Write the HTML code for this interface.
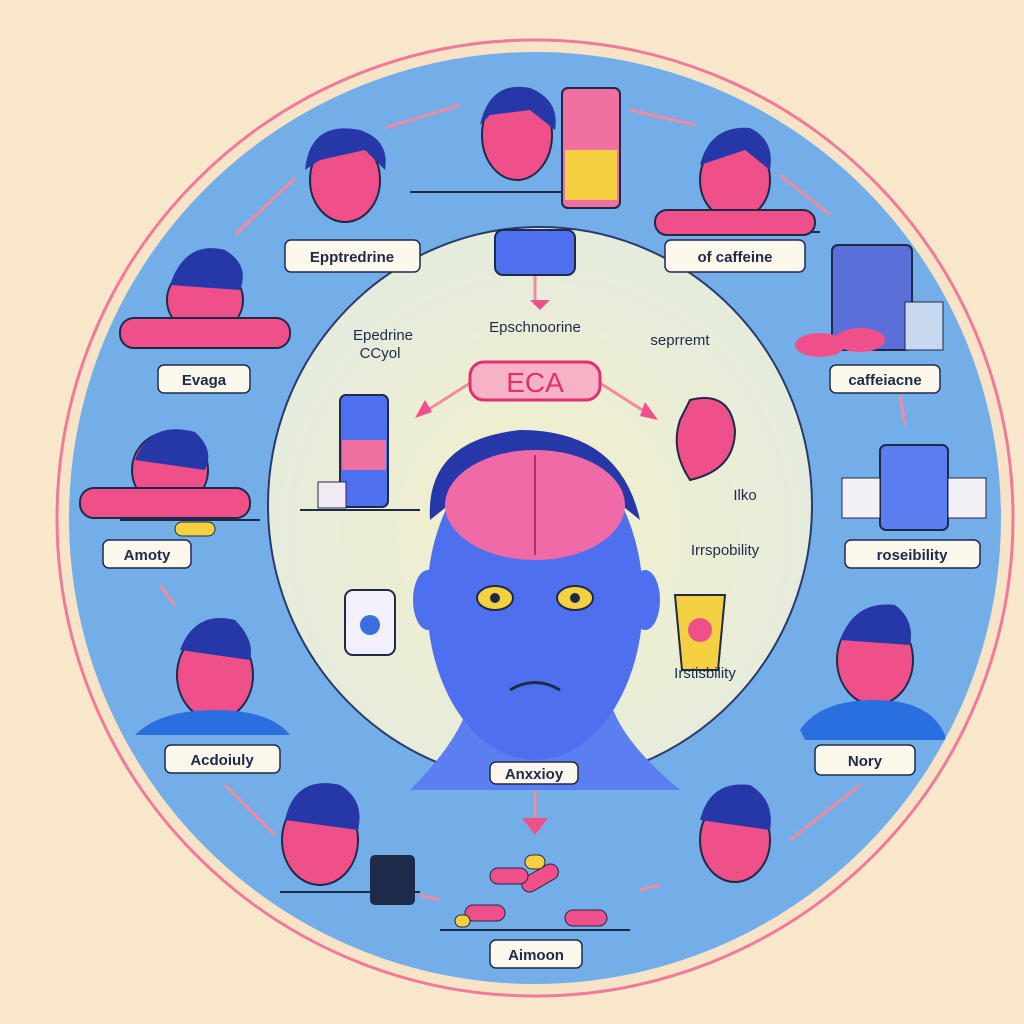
<!DOCTYPE html>
<html><head><meta charset="utf-8"><style>
html,body{margin:0;padding:0;background:#f8e7cb;}
svg{display:block}
text{font-family:"Liberation Sans",sans-serif;}
</style></head><body>
<svg width="1024" height="1024" viewBox="0 0 1024 1024" xmlns="http://www.w3.org/2000/svg">
<defs><radialGradient id="g" cx="0.5" cy="0.55" r="0.5"><stop offset="0" stop-color="#f4f0c8"/><stop offset="1" stop-color="#e6ecdc"/></radialGradient></defs>
<rect width="1024" height="1024" fill="#f8e7cb"/>
<circle cx="535" cy="518" r="478" fill="#f7e3c6" stroke="#f07a9a" stroke-width="3"/>
<circle cx="535" cy="518" r="466" fill="#74aee8"/>
<ellipse cx="540" cy="505" rx="272" ry="278" fill="url(#g)" stroke="#2a3a6a" stroke-width="2"/>
<g stroke="#1e2a4a" stroke-width="2">
<line x1="410" y1="192" x2="600" y2="192"/><line x1="300" y1="510" x2="420" y2="510"/>
<line x1="280" y1="892" x2="420" y2="892"/><line x1="440" y1="930" x2="630" y2="930"/>
<line x1="665" y1="232" x2="820" y2="232"/><line x1="120" y1="520" x2="260" y2="520"/>
</g>
<g stroke="#f28aa0" stroke-width="3" fill="none">
<path d="M385 128 L460 105"/><path d="M630 110 L695 125"/><path d="M780 175 L830 215"/>
<path d="M295 178 L235 235"/><path d="M900 395 L905 425"/><path d="M160 585 L175 605"/>
<path d="M225 785 L275 835"/><path d="M790 840 L860 785"/><path d="M420 895 L440 900"/>
<path d="M640 890 L660 885"/><path d="M535 275 L535 305"/><path d="M470 383 L420 415"/>
<path d="M600 383 L650 415"/><path d="M535 790 L535 830"/>
</g>
<g fill="#f0508a">
<polygon points="540,310 530,300 550,300"/><polygon points="415,418 425,400 432,412"/>
<polygon points="658,420 645,402 640,416"/><polygon points="535,835 522,818 548,818"/>
</g>
<path d="M410 790 Q460 740 470 700 L610 700 Q620 740 680 790 Z" fill="#5b7ff0"/>
<ellipse cx="535" cy="600" rx="108" ry="160" fill="#4f70ee"/>
<ellipse cx="428" cy="600" rx="15" ry="30" fill="#4f70ee"/><ellipse cx="645" cy="600" rx="15" ry="30" fill="#4f70ee"/>
<path d="M430 520 Q425 440 520 430 Q620 430 640 520 L615 500 L455 500 Z" fill="#2637a8"/>
<ellipse cx="535" cy="505" rx="90" ry="55" fill="#f06aa8"/>
<line x1="535" y1="455" x2="535" y2="555" stroke="#b03070" stroke-width="2"/>
<ellipse cx="495" cy="598" rx="18" ry="12" fill="#f5d040" stroke="#1e2a4a" stroke-width="2"/>
<ellipse cx="575" cy="598" rx="18" ry="12" fill="#f5d040" stroke="#1e2a4a" stroke-width="2"/>
<circle cx="495" cy="598" r="5" fill="#1e2a4a"/><circle cx="575" cy="598" r="5" fill="#1e2a4a"/>
<path d="M510 690 Q535 675 560 690" stroke="#1e2a4a" stroke-width="3" fill="none"/>
<g fill="#f0508a" stroke="#1e2a4a" stroke-width="2">
<ellipse cx="345" cy="180" rx="35" ry="42"/><ellipse cx="517" cy="135" rx="35" ry="45"/>
<ellipse cx="735" cy="180" rx="35" ry="40"/><ellipse cx="205" cy="300" rx="38" ry="35"/>
<ellipse cx="170" cy="470" rx="38" ry="38"/><ellipse cx="215" cy="675" rx="38" ry="45"/>
<ellipse cx="320" cy="840" rx="38" ry="45"/><ellipse cx="735" cy="840" rx="35" ry="42"/>
<ellipse cx="875" cy="660" rx="38" ry="45"/>
<rect x="120" y="318" width="170" height="30" rx="14"/><rect x="80" y="488" width="170" height="30" rx="14"/>
<rect x="655" y="210" width="160" height="25" rx="12"/>
</g>
<g fill="#2637a8">
<path d="M305 170 Q310 120 360 130 Q390 140 385 170 L365 150 L320 160 Z"/>
<path d="M480 125 Q490 80 530 88 Q560 100 555 130 L530 110 L490 115 Z"/>
<path d="M700 165 Q710 125 750 128 Q775 140 770 170 L745 150 Z"/>
<path d="M170 285 Q185 240 225 250 Q250 265 240 290 Z"/>
<path d="M135 460 Q150 420 195 432 Q215 450 205 470 Z"/>
<path d="M180 650 Q195 610 235 620 Q255 640 250 660 Z"/>
<path d="M285 820 Q295 775 340 785 Q365 800 358 830 Z"/>
<path d="M700 820 Q710 780 750 785 Q775 800 770 830 Z"/>
<path d="M840 640 Q855 600 895 605 Q915 620 910 645 Z"/>
</g>
<path d="M800 730 Q820 700 875 700 Q930 700 945 735 L945 740 L805 740 Z" fill="#2a6fe0"/>
<path d="M135 735 Q160 710 215 710 Q270 710 290 735 Z" fill="#2a6fe0"/>
<rect x="562" y="88" width="58" height="120" rx="6" fill="#f070a0" stroke="#1e2a4a" stroke-width="2"/>
<rect x="565" y="150" width="52" height="50" fill="#f5d040"/>
<rect x="832" y="245" width="80" height="105" rx="6" fill="#5b6fd8" stroke="#1e2a4a" stroke-width="2"/>
<rect x="905" y="302" width="38" height="48" fill="#c8d8f0" stroke="#1e2a4a"/>
<ellipse cx="820" cy="345" rx="25" ry="12" fill="#f0508a"/><ellipse cx="860" cy="340" rx="25" ry="12" fill="#f0508a"/>
<rect x="495" y="230" width="80" height="45" rx="8" fill="#4f70ee" stroke="#1e2a4a" stroke-width="2"/>
<rect x="880" y="445" width="68" height="85" rx="6" fill="#5b7ff0" stroke="#1e2a4a" stroke-width="2"/>
<rect x="842" y="478" width="38" height="40" fill="#f2f0f5" stroke="#1e2a4a"/>
<rect x="948" y="478" width="38" height="40" fill="#f2f0f5" stroke="#1e2a4a"/>
<rect x="340" y="395" width="48" height="112" rx="6" fill="#4f70ee" stroke="#1e2a4a" stroke-width="2"/>
<rect x="342" y="440" width="44" height="30" fill="#f070a0"/>
<rect x="318" y="482" width="28" height="26" fill="#f2eaf2" stroke="#1e2a4a"/>
<rect x="345" y="590" width="50" height="65" rx="8" fill="#f2f0f8" stroke="#1e2a4a" stroke-width="2"/>
<circle cx="370" cy="625" r="10" fill="#3a6fe0"/>
<path d="M675 595 L725 595 L718 670 L682 670 Z" fill="#f5d040" stroke="#1e2a4a" stroke-width="2"/>
<circle cx="700" cy="630" r="12" fill="#f0508a"/>
<path d="M690 400 Q730 390 735 430 Q735 470 690 480 Q670 450 680 420 Z" fill="#f0508a" stroke="#1e2a4a" stroke-width="2"/>
<rect x="370" y="855" width="45" height="50" rx="5" fill="#1e2a4a"/>
<g fill="#f0508a" stroke="#1e2a4a"><rect x="465" y="905" width="40" height="16" rx="8"/><rect x="520" y="870" width="40" height="16" rx="8" transform="rotate(-30 540 878)"/><rect x="565" y="910" width="42" height="16" rx="8"/><rect x="490" y="868" width="38" height="16" rx="8"/></g>
<g fill="#f5d040" stroke="#1e2a4a"><rect x="455" y="915" width="15" height="12" rx="6"/><rect x="525" y="855" width="20" height="14" rx="7"/><rect x="175" y="522" width="40" height="14" rx="7"/></g>
<g fill="#fbf7ea" stroke="#1e2a4a" stroke-width="1.5">
<rect x="285" y="240" width="135" height="32" rx="6"/><rect x="665" y="240" width="140" height="32" rx="6"/>
<rect x="158" y="365" width="92" height="28" rx="6"/><rect x="830" y="365" width="110" height="28" rx="6"/>
<rect x="103" y="540" width="88" height="28" rx="6"/><rect x="845" y="540" width="135" height="28" rx="6"/>
<rect x="165" y="745" width="115" height="28" rx="6"/><rect x="815" y="745" width="100" height="30" rx="6"/>
<rect x="490" y="762" width="88" height="22" rx="6"/><rect x="490" y="940" width="92" height="28" rx="6"/>
</g>
<rect x="470" y="362" width="130" height="38" rx="14" fill="#f7b2c6" stroke="#e03070" stroke-width="3"/>
<text x="535" y="392" font-size="28" text-anchor="middle" fill="#e03070">ECA</text>
<g font-size="15" font-weight="bold" text-anchor="middle" fill="#1e2a4a">
<text x="352" y="262">Epptredrine</text><text x="735" y="262">of caffeine</text>
<text x="204" y="385">Evaga</text><text x="885" y="385">caffeiacne</text>
<text x="147" y="560">Amoty</text><text x="912" y="560">roseibility</text>
<text x="222" y="765">Acdoiuly</text><text x="865" y="766">Nory</text>
<text x="534" y="779">Anxxioy</text><text x="536" y="960">Aimoon</text>
</g>
<g font-size="15" text-anchor="middle" fill="#1e2a4a">
<text x="535" y="332">Epschnoorine</text><text x="680" y="345">seprremt</text>
<text x="383" y="340">Epedrine</text><text x="380" y="358">CCyol</text>
<text x="745" y="500">Ilko</text><text x="725" y="555">Irrspobility</text>
<text x="705" y="678">Irstisbility</text>
</g>
</svg>
</body></html>
